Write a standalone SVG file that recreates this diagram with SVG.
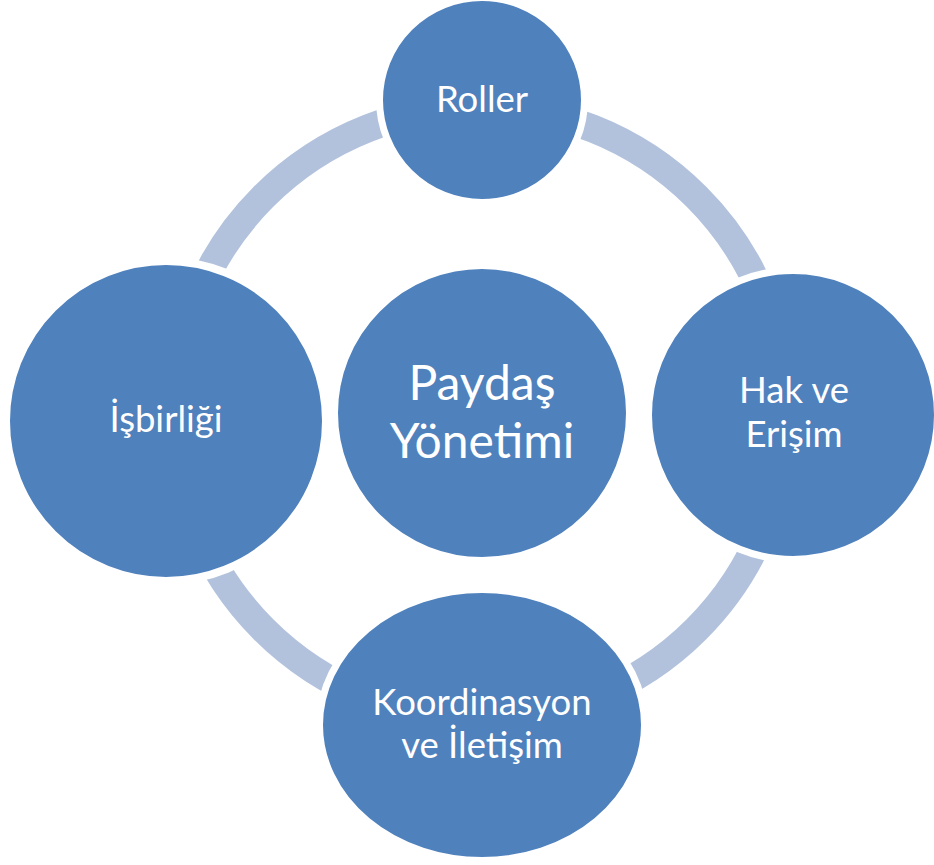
<svg xmlns="http://www.w3.org/2000/svg" width="934" height="865" viewBox="0 0 934 865">
<style>
.arc{fill:none;stroke:#B2C2DD;stroke-width:28}
.halo{fill:#FFFFFF}
.node{fill:#4F81BD;stroke:#FFFFFF;stroke-width:2}
.lbl{fill:#FFFFFF;font-family:Lato,"Open Sans","Liberation Sans",sans-serif;font-size:36.5px;text-anchor:middle}
.big{font-size:48px}
</style>
<rect width="934" height="865" fill="#FFFFFF"/>
<g id="connectors">
<path class="arc" d="M480,107 A306,306 0 0 1 786,413"/>
<path class="arc" d="M786,413 A306,306 0 0 1 480,719"/>
<path class="arc" d="M480,719 A306,306 0 0 1 174,413"/>
<path class="arc" d="M174,413 A306,306 0 0 1 480,107"/>
</g>
<g id="node-paydas">
<circle class="node" cx="482" cy="413" r="145"/>
<text class="lbl big" x="482" y="400">Paydaş</text>
<text class="lbl big" x="482" y="458">Yönetimi</text>
</g>
<g id="node-roller">
<circle class="halo" cx="482" cy="100" r="106"/>
<circle class="node" cx="482" cy="100" r="100"/>
<text class="lbl" x="482" y="112">Roller</text>
</g>
<g id="node-hak">
<circle class="halo" cx="793" cy="415" r="148"/>
<circle class="node" cx="793" cy="415" r="142"/>
<text class="lbl" x="794" y="403">Hak ve</text>
<text class="lbl" x="794" y="447">Erişim</text>
</g>
<g id="node-koordinasyon">
<ellipse class="halo" cx="482" cy="725" rx="166" ry="139"/>
<ellipse class="node" cx="482" cy="725" rx="160" ry="133"/>
<text class="lbl" x="482" y="715">Koordinasyon</text>
<text class="lbl" x="482" y="758">ve İletişim</text>
</g>
<g id="node-isbirligi">
<circle class="halo" cx="166" cy="421" r="164"/>
<circle class="node" cx="166" cy="421" r="157"/>
<text class="lbl" x="166" y="432">İşbirliği</text>
</g>
</svg>
